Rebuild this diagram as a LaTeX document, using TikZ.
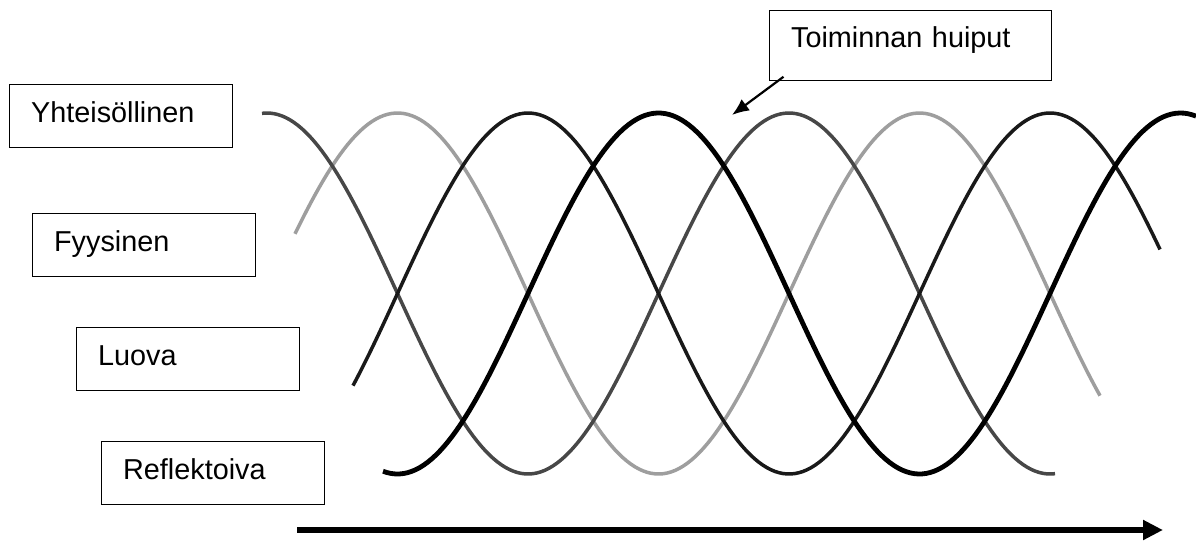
\documentclass[tikz,border=0pt]{standalone}
\usepackage{fontspec}
\setmainfont{Liberation Sans}
\usepackage{xcolor}
\usetikzlibrary{arrows.meta,positioning}
\tikzset{
  lbox/.style={draw=black, line width=1.3pt, anchor=north west, align=left, font=\fontsize{28.8}{34}\selectfont, inner xsep=22pt, inner ysep=0pt, text width=179pt, minimum height=63pt, text height=21.4pt, text depth=7.1pt},
  cbox/.style={lbox, text width=238pt, minimum height=0pt, inner ysep=15pt, text height=22.5pt, text depth=17.5pt},
  tarr/.style={-{Latex[length=17pt,width=14pt]}, line width=2.2pt},
  aarr/.style={-{Triangle[length=20pt,width=19pt]}, line width=6pt},
  aalto/.style={line width=3.5pt}
}

\begin{document}
\begin{tikzpicture}[x=1pt,y=-1pt]
\useasboundingbox (0,0) rectangle (1196,541);
% aallot (jakso 522)
\draw[aalto, black!38] plot[domain=295:1100, samples=200] (\x, {293.5-180.5*cos(0.689655*(\x-397.5))});
\draw[aalto, black!72] plot[domain=262:1055, samples=200] (\x, {293.5-180.5*cos(0.689655*(\x-267))});
\draw[aalto, black!90] plot[domain=353:1160, samples=200] (\x, {293.5-180.5*cos(0.689655*(\x-528))});
\draw[aalto, black, line width=4.8pt] plot[domain=383:1196, samples=200] (\x, {293.5-180.5*cos(0.689655*(\x-658.5))});
% laatikot
\node[lbox] (yht) at (8.5,83.5) {Yhteisöllinen};
\node[lbox] (fyy) at (31.5,212.5) {Fyysinen};
\node[lbox] (luo) at (75.5,326.5) {Luova};
\node[lbox] (ref) at (100.5,440.5) {Reflektoiva};
\node[cbox] (huiput) at (768.5,9.5) {Toiminnan huiput};
\coordinate (huippu) at (732,115);
\draw[tarr] ([xshift=15pt,yshift=4pt]huiput.south west) -- (huippu);
% aika
\coordinate (alku) at (297,530);
\coordinate (loppu) at (1163,530);
\draw[aarr] (alku) -- (loppu);
\end{tikzpicture}
\end{document}
